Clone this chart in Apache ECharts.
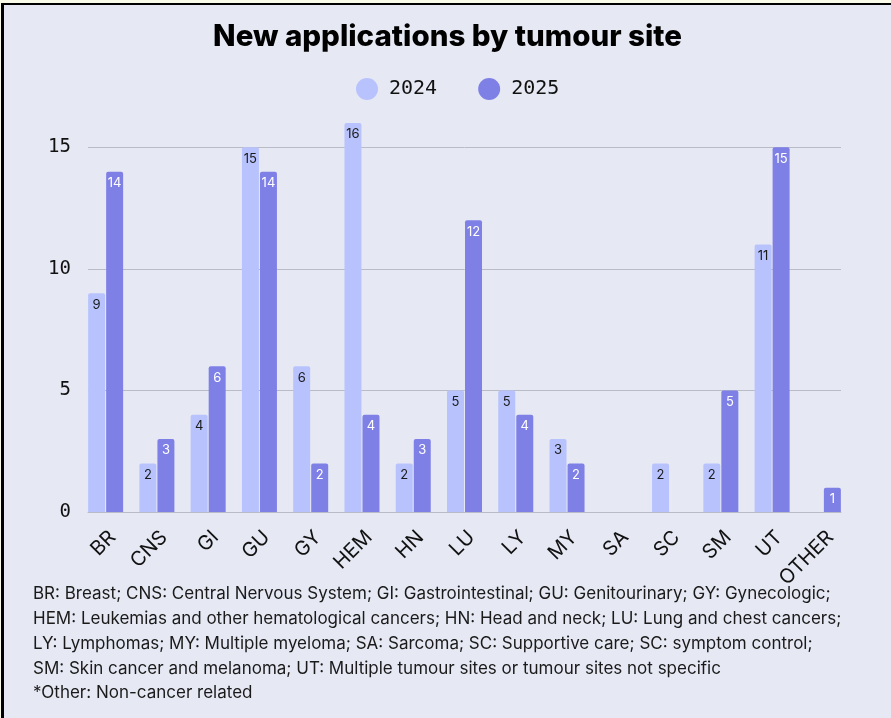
<!DOCTYPE html>
<html>
<head>
<meta charset="utf-8">
<title>New applications by tumour site</title>
<script src="https://cdn.jsdelivr.net/npm/echarts@6/dist/echarts.min.js"></script>
<style>
  html, body { margin: 0; padding: 0; background: #fafae8; overflow: hidden; }
  #frame { position: absolute; left: 1px; top: 3px; border-left: 3px solid #000; border-top: 2px solid #000; }
  #chart { width: 887px; height: 713px; background: #e6e9f4; }
</style>
</head>
<body>
<div id="frame"><div id="chart"></div></div>
<script>
// tumour site codes
const sites = ['BR', 'CNS', 'GI', 'GU', 'GY', 'HEM', 'HN', 'LU', 'LY', 'MY', 'SA', 'SC', 'SM', 'UT', 'OTHER']
// new applications per year (null = no bar)
const apps2024 = [9, 2, 4, 15, 6, 16, 2, 5, 5, 3, null, 2, 2, 11, null]
const apps2025 = [14, 3, 6, 14, 2, 4, 3, 12, 4, 2, null, null, 5, 15, 1]
const yMax = 16
const yStep = 5

const footnote = [
  'BR: Breast; CNS: Central Nervous System; GI: Gastrointestinal; GU: Genitourinary; GY: Gynecologic;',
  'HEM: Leukemias and other hematological cancers; HN: Head and neck; LU: Lung and chest cancers;',
  'LY: Lymphomas; MY: Multiple myeloma; SA: Sarcoma; SC: Supportive care; SC: symptom control;',
  'SM: Skin cancer and melanoma; UT: Multiple tumour sites or tumour sites not specific',
  '*Other: Non-cancer related'
]

const chart = echarts.init(document.getElementById('chart'))

const gridLine = '#b9bbc7'

chart.setOption({
  animation: false,
  textStyle: { fontFamily: 'Inter, sans-serif' },
  title: {
    text: 'New applications by tumour site',
    left: 'center',
    top: 12,
    textStyle: { fontSize: 29.5, fontWeight: 800, color: '#000', fontFamily: 'Inter, sans-serif' }
  },
  legend: {
    top: 68,
    left: 347,
    icon: 'circle',
    itemWidth: 34,
    itemHeight: 22,
    itemGap: 41,
    textStyle: { fontSize: 20, color: '#111', fontFamily: '"DejaVu Sans Mono", monospace' },
    data: ['2024', '2025']
  },
  // grid 0 holds the bars, grid 1 draws the visible axis lines / gridlines
  grid: [
    { left: 76, right: 42, top: 118, bottom: 206 },
    { left: 84, right: 50, top: 118, bottom: 206 }
  ],
  xAxis: [
    {
      type: 'category',
      gridIndex: 0,
      data: sites,
      axisLine: { show: false },
      axisTick: { show: false },
      axisLabel: { rotate: 45, fontSize: 20, color: '#111', margin: 15, interval: 0, verticalAlign: 'top' }
    },
    {
      type: 'category',
      gridIndex: 1,
      data: sites,
      axisLine: { show: true, lineStyle: { color: gridLine, width: 1 } },
      axisTick: { show: false },
      axisLabel: { show: false }
    }
  ],
  yAxis: [
    {
      type: 'value',
      gridIndex: 0,
      min: 0,
      max: yMax,
      interval: yStep,
      show: false,
      splitLine: { show: false }
    },
    {
      type: 'value',
      gridIndex: 1,
      min: 0,
      max: yMax,
      interval: yStep,
      axisLine: { show: false },
      axisTick: { show: false },
      axisLabel: {
        fontSize: 19,
        color: '#111',
        margin: 17,
        showMaxLabel: false,
        fontFamily: '"DejaVu Sans Mono", monospace'
      },
      splitLine: {
        lineStyle: { color: [gridLine, gridLine, gridLine, gridLine, 'transparent'], width: 1 }
      }
    }
  ],
  series: [
    {
      name: '2024',
      type: 'bar',
      xAxisIndex: 0,
      yAxisIndex: 0,
      data: apps2024,
      barWidth: 17,
      barGap: '6%',
      itemStyle: { color: '#b8c3fd', borderRadius: [2, 2, 0, 0] },
      label: { show: true, position: 'insideTop', distance: 5, fontSize: 13, color: '#1a1a1a' }
    },
    {
      name: '2025',
      type: 'bar',
      xAxisIndex: 0,
      yAxisIndex: 0,
      data: apps2025,
      barWidth: 17,
      itemStyle: { color: '#7f80e6', borderRadius: [2, 2, 0, 0] },
      label: { show: true, position: 'insideTop', distance: 5, fontSize: 13, color: '#fff' }
    }
  ],
  graphic: [
    {
      type: 'text',
      left: 29,
      top: 577,
      style: {
        text: footnote.join('\n'),
        fontSize: 17,
        lineHeight: 24.7,
        fill: '#1a1a1a',
        fontFamily: 'Inter, sans-serif'
      }
    }
  ]
})
</script>
</body>
</html>
